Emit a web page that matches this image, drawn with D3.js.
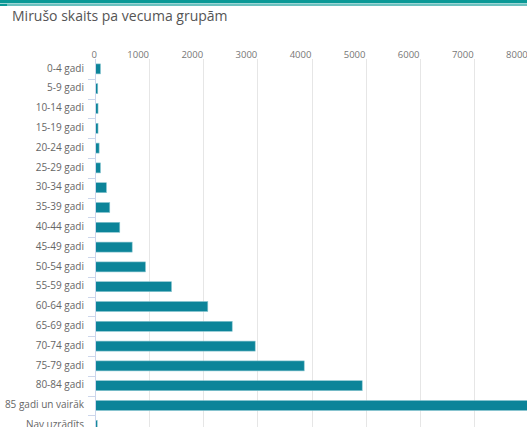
<!DOCTYPE html>
<html>
<head>
<meta charset="utf-8">
<script src="https://cdn.jsdelivr.net/npm/d3@7"></script>
<style>
  body { margin: 0; background: #fff; }
  #chart { width: 527px; height: 427px; overflow: hidden; }
  text { font-family: "Open Sans", sans-serif; }
</style>
</head>
<body>
<div id="chart"></div>
<script>
// data
var ageGroups = ["0-4 gadi", "5-9 gadi", "10-14 gadi", "15-19 gadi", "20-24 gadi", "25-29 gadi",
  "30-34 gadi", "35-39 gadi", "40-44 gadi", "45-49 gadi", "50-54 gadi", "55-59 gadi",
  "60-64 gadi", "65-69 gadi", "70-74 gadi", "75-79 gadi", "80-84 gadi", "85 gadi un vairāk", "Nav uzrādīts"];
var deaths = [90, 40, 45, 45, 65, 90, 200, 262, 447, 676, 922, 1403, 2074, 2525, 2950, 3856, 4928, 8500, 30];
var xTicks = [0, 1000, 2000, 3000, 4000, 5000, 6000, 7000, 8000];

var width = 527, height = 427;
var margin = {top: 59, left: 95};

var svg = d3.select("#chart")
  .append("svg")
  .attr("width", width)
  .attr("height", height);

// teal header lines
svg.append("rect").attr("x", 0).attr("y", 0).attr("width", width).attr("height", 3.4).attr("fill", "#0a9996");
svg.append("rect").attr("x", 0).attr("y", 4.4).attr("width", width).attr("height", 1.2).attr("fill", "#0a9996");
svg.append("rect").attr("x", 0).attr("y", 4).attr("width", 7).attr("height", 2).attr("fill", "#0a9996");

// title
svg.append("text")
  .attr("x", 12)
  .attr("y", 21)
  .attr("fill", "#555")
  .attr("font-size", "14px")
  .text("Mirušo skaits pa vecuma grupām");

// scales
var x = d3.scaleLinear()
  .domain([0, 8000])
  .range([margin.left + 0.1, margin.left + 0.1 + 8000 * 0.0541]);

var y = d3.scaleBand()
  .domain(ageGroups)
  .range([margin.top, margin.top + ageGroups.length * 19.8]);

// gridlines
svg.append("g")
  .selectAll("line")
  .data(xTicks.slice(1))
  .enter()
  .append("line")
    .attr("x1", function(d) { return Math.round(x(d)) + 0.5; })
    .attr("x2", function(d) { return Math.round(x(d)) + 0.5; })
    .attr("y1", margin.top)
    .attr("y2", height)
    .attr("stroke", "#e6e6e6");

// top axis labels
svg.append("g")
  .selectAll("text")
  .data(xTicks)
  .enter()
  .append("text")
    .attr("x", function(d) { return d === 0 ? x(d) - 1 : x(d) - 11; })
    .attr("y", 55)
    .attr("text-anchor", "middle")
    .attr("dominant-baseline", "middle")
    .attr("font-size", "9.5px")
    .attr("fill", "#777")
    .text(function(d) { return d; });

// bars
var barH = 10;
svg.append("g")
  .selectAll("rect")
  .data(deaths)
  .enter()
  .append("rect")
    .attr("x", x(0) + 0.5)
    .attr("y", function(d, i) { return y(ageGroups[i]) + y.bandwidth() / 2 - barH / 2; })
    .attr("width", function(d) { return Math.max(0, x(d) - x(0)); })
    .attr("height", barH)
    .attr("fill", "#0c8499")
    .attr("stroke", "#8ac6d0")
    .attr("stroke-width", 0.6);

// left axis line and ticks
svg.append("line")
  .attr("x1", 95.5).attr("x2", 95.5)
  .attr("y1", margin.top).attr("y2", height)
  .attr("stroke", "#ccd6eb");

svg.append("g")
  .selectAll("line")
  .data(ageGroups)
  .enter()
  .append("line")
    .attr("x1", 88)
    .attr("x2", 95)
    .attr("y1", function(d) { return Math.round(y(d) + y.bandwidth()) + 0.5; })
    .attr("y2", function(d) { return Math.round(y(d) + y.bandwidth()) + 0.5; })
    .attr("stroke", "#ccd6eb");

// category labels
svg.append("g")
  .selectAll("text")
  .data(ageGroups)
  .enter()
  .append("text")
    .attr("x", 84)
    .attr("y", function(d) { return y(d) + y.bandwidth() / 2; })
    .attr("text-anchor", "end")
    .attr("dominant-baseline", "middle")
    .attr("font-size", "10px")
    .attr("fill", "#666")
    .text(function(d) { return d; });
</script>
</body>
</html>
